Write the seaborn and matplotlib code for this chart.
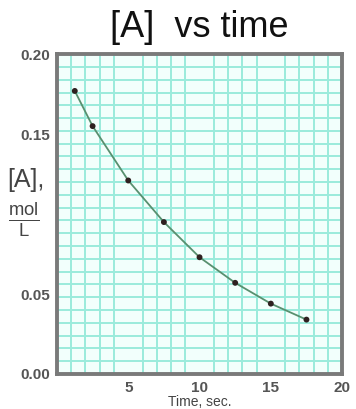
import numpy as np
import pandas as pd
import matplotlib
matplotlib.use("Agg")
import matplotlib.pyplot as plt
import seaborn as sns

# data
time_s = [1.25, 2.5, 5.0, 7.5, 10.0, 12.5, 15.0, 17.5]
conc_A = [0.177, 0.155, 0.121, 0.095, 0.073, 0.057, 0.044, 0.034]
x_ticks = [5, 10, 15, 20]
x_tick_labels = ["5", "10", "15", "20"]
y_ticks = [0.00, 0.05, 0.15, 0.20]
y_tick_labels = ["0.00", "0.05", "0.15", "0.20"]

sns.set_style("white")
plt.rcParams["font.family"] = ["Liberation Sans", "DejaVu Sans"]
plt.rcParams["mathtext.fontset"] = "custom"
plt.rcParams["mathtext.rm"] = "Liberation Sans"

df = pd.DataFrame({"time": time_s, "A": conc_A})

fig = plt.figure(figsize=(3.56, 4.09), dpi=100)
ax = fig.add_axes([0.160, 0.0856, 0.801, 0.782])
ax.set_facecolor("#f2fffc")

sns.lineplot(data=df, x="time", y="A", ax=ax, color="#58906f", lw=1.3, zorder=3)
sns.scatterplot(data=df, x="time", y="A", ax=ax, color="#2e2020", s=18,
                edgecolor="none", zorder=4)

ax.set_xlim(0, 20)
ax.set_ylim(0, 0.20)
ax.set_xticks(np.arange(0, 21, 1), minor=True)
ax.set_yticks(np.arange(0, 0.2001, 0.008), minor=True)
ax.grid(which="minor", color="#9aebdc", lw=1.4, zorder=0)
ax.set_axisbelow(True)

ax.set_xticks(x_ticks)
ax.set_xticklabels(x_tick_labels)
ax.set_yticks(y_ticks)
ax.set_yticklabels(y_tick_labels)
ax.tick_params(which="major", length=3, color="#777777", labelsize=11,
               labelcolor="#555555", pad=2)
for lab in ax.get_xticklabels() + ax.get_yticklabels():
    lab.set_fontweight("bold")
ax.tick_params(which="minor", length=0)
for s in ax.spines.values():
    s.set_color("#7a7a7a")
    s.set_linewidth(2.8)

ax.set_xlabel("Time, sec.", fontsize=10, color="#444444", labelpad=0)
ax.set_ylabel("")
ax.set_title("[A]  vs time", fontsize=26, color="#111111", pad=12)

fig.text(0.073, 0.56, "[A],", fontsize=18, color="#444444", ha="center", va="center")
fig.text(0.068, 0.462, r"$\frac{\mathrm{mol}}{\mathrm{L}}$", fontsize=19,
         color="#444444", ha="center", va="center")

fig.savefig("out.png", dpi=100)
